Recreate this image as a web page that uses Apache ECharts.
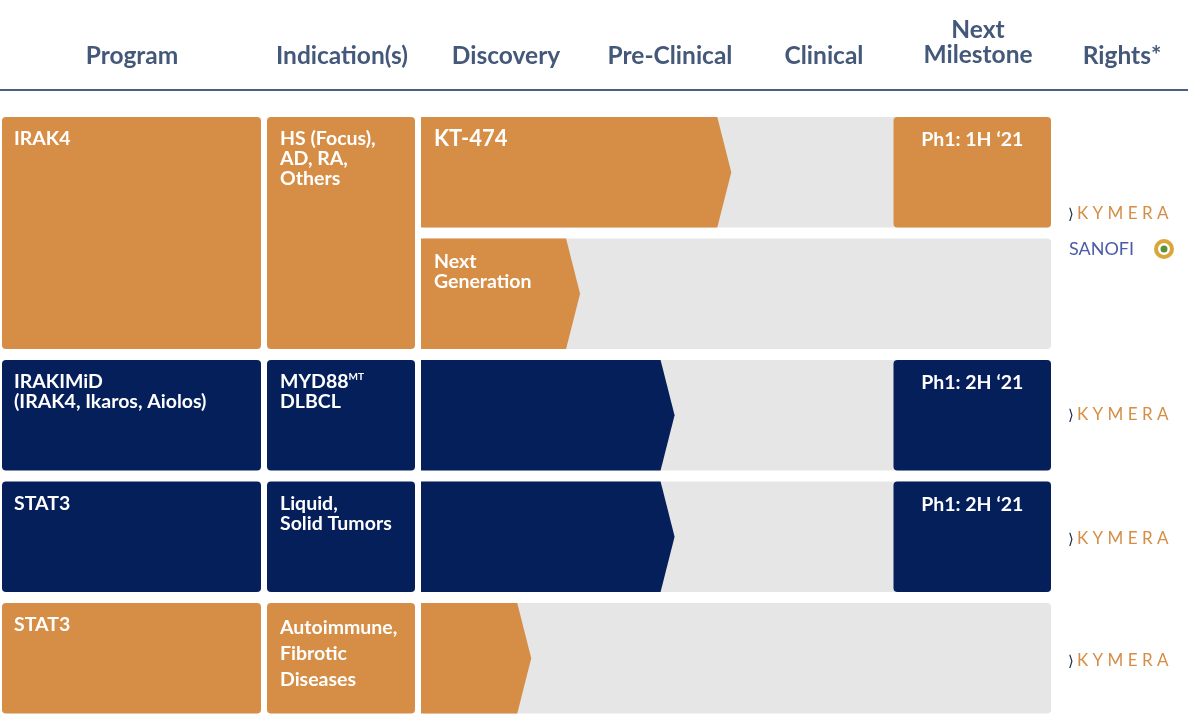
<!DOCTYPE html>
<html><head><meta charset="utf-8">
<script src="https://cdn.jsdelivr.net/npm/echarts@6/dist/echarts.min.js"></script>
<style>html,body{margin:0;background:#fff}#c{width:1188px;height:719px}</style>
</head><body><div id="c"></div>
<script>
// pipeline data (progress measured in stage units: 0 = start of Discovery, 3 = Next Milestone)
const stages = ['Discovery', 'Pre-Clinical', 'Clinical'];
const headers = ['Program', 'Indication(s)', 'Discovery', 'Pre-Clinical', 'Clinical', 'Next\nMilestone', 'Rights*'];
const programs = ['IRAK4', 'IRAKIMiD\n(IRAK4, Ikaros, Aiolos)', 'STAT3', 'STAT3'];
const programRows = [[0, 1], [2, 2], [3, 3], [4, 4]];
const indications = ['HS (Focus),\nAD, RA,\nOthers', '{t|MYD88}{s|MT}\n{t|DLBCL}', 'Liquid,\nSolid Tumors', 'Autoimmune,\nFibrotic\nDiseases'];
const trackNames = ['KT-474', 'Next\nGeneration', '', '', ''];
const progress = [1.97, 1.01, 1.61, 1.61, 0.70];
const milestones = ['Ph1: 1H ‘21', '', 'Ph1: 2H ‘21', 'Ph1: 2H ‘21', ''];
const rowProgram = [0, 0, 1, 2, 3];

const ORANGE = '#D68D45', NAVY = '#051F5B', GRAY = '#E6E6E6', HEAD = '#44587A';
const progColor = [ORANGE, NAVY, NAVY, ORANGE];
const FONT = 'Lato';
const FS = 19.5;

const chart = echarts.init(document.getElementById('c'));

function band(api, r) {
  const c = api.coord([0, r]);
  const h = api.size([0, 1])[1];
  return { y: c[1] - h / 2 + 5.5, h: h - 11 };
}
const lbl = (t, x, y, size, extra) => ({
  type: 'text', style: Object.assign({ text: t, x, y, fill: '#fff', font: `bold ${size}px ${FONT}`, lineHeight: 20 }, extra || {})
});

function renderItem(params, api) {
  const r = params.dataIndex;
  const b = band(api, r);
  const x0 = api.coord([0, r])[0], x4 = api.coord([4, r])[0], x3 = api.coord([3, r])[0];
  const tip = api.coord([progress[r], r])[0];
  const col = progColor[rowProgram[r]];
  const kids = [];
  kids.push({ type: 'rect', shape: { x: x0, y: b.y, width: x4 - x0, height: b.h, r: 4 }, style: { fill: GRAY } });
  kids.push({ type: 'polygon', shape: { points: [[x0, b.y], [tip - 14, b.y], [tip, b.y + b.h / 2], [tip - 14, b.y + b.h], [x0, b.y + b.h]] }, style: { fill: col } });
  if (trackNames[r]) {
    const big = r === 0;
    kids.push(lbl(trackNames[r], x0 + 13, b.y + (big ? 12 : 13), big ? 22 : FS));
  }
  if (milestones[r]) {
    kids.push({ type: 'rect', shape: { x: x3, y: b.y, width: x4 - x3, height: b.h, r: 4 }, style: { fill: col } });
    kids.push(lbl(milestones[r], (x3 + x4) / 2, b.y + 13, FS, { align: 'center' }));
  }
  programRows.forEach((pr, p) => {
    if (pr[0] !== r) return;
    const bEnd = band(api, pr[1]);
    const h = bEnd.y + bEnd.h - b.y;
    kids.push({ type: 'rect', shape: { x: 2, y: b.y, width: 259, height: h, r: 4 }, style: { fill: progColor[p] } });
    kids.push({ type: 'rect', shape: { x: 267, y: b.y, width: 148, height: h, r: 4 }, style: { fill: progColor[p] } });
    kids.push(lbl(programs[p], 14, b.y + 12, FS));
    const ind = lbl(indications[p], 280, b.y + 12, FS, p === 3 ? { lineHeight: 26 } : {});
    if (p === 1) ind.style.rich = {
      t: { fill: '#fff', font: `bold ${FS}px ${FONT}`, lineHeight: 20 },
      s: { fill: '#fff', font: `bold 10px ${FONT}`, verticalAlign: 'top', lineHeight: 20 }
    };
    kids.push(ind);
  });
  return { type: 'group', children: kids };
}

const headX = [132, 342, 506, 670, 824, 978, 1122];
const graphics = headers.map((h, i) => ({
  type: 'text', x: headX[i], y: h.includes('\n') ? 43 : 56,
  style: { text: h, align: 'center', verticalAlign: 'middle', fill: HEAD, font: `bold 24.5px ${FONT}`, lineHeight: 25 }
}));
graphics.push({ type: 'rect', shape: { x: 0, y: 89, width: 1188, height: 2 }, style: { fill: '#4A5F85' } });
function kymera(y) {
  return [
    { type: 'text', x: 1068, y, style: { text: '⟩', fill: '#1a2a44', font: `15px ${FONT}`, verticalAlign: 'middle' } },
    { type: 'text', x: 1077, y, style: { text: 'K Y M E R A', fill: ORANGE, font: `17px ${FONT}`, verticalAlign: 'middle' } }
  ];
}
[214, 415, 539, 661].forEach(y => graphics.push(...kymera(y)));
graphics.push({ type: 'text', x: 1069, y: 249, style: { text: 'SANOFI', fill: '#4B5BA8', font: `18px ${FONT}`, verticalAlign: 'middle' } });
graphics.push({ type: 'circle', shape: { cx: 1164, cy: 249, r: 8 }, style: { fill: 'none', stroke: '#D9A63A', lineWidth: 4 } });
graphics.push({ type: 'circle', shape: { cx: 1164, cy: 249, r: 3.5 }, style: { fill: '#5C8F3A' } });

chart.setOption({
  animation: false,
  grid: { left: 421, right: 137, top: 111.5, height: 612 },
  xAxis: { type: 'value', min: 0, max: 4, show: false },
  yAxis: { type: 'category', inverse: true, data: trackNames.map((t, i) => 'r' + i), show: false },
  graphic: graphics,
  series: [{ type: 'custom', renderItem, clip: false, data: progress.map((p, i) => [p, i]) }]
});
</script></body></html>
